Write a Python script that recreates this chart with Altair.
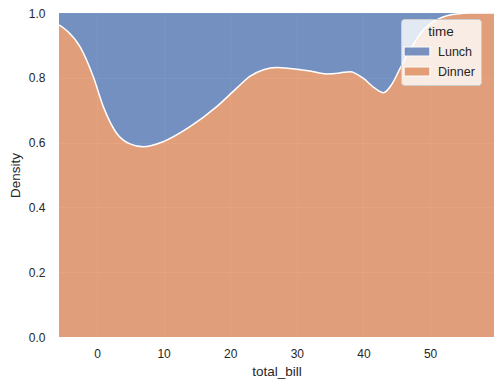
import altair as alt
import pandas as pd

# total_bill grid and share of Dinner density
bill = [-5.7, -4.5, -2.55, -0.55, 0.95, 2.95, 4.95, 6.95, 9.95, 13.96, 17.97, 20.97,
        23.0, 25.0, 26.98, 29.0, 31.98, 34.5, 36.5, 38.0, 40.0, 41.7, 43.0, 44.2, 45.5,
        47.0, 49.0, 51.5, 54.0, 56.0, 59.6]
dinner_share = [0.963, 0.945, 0.896, 0.803, 0.711, 0.629, 0.596, 0.587, 0.603, 0.649,
                0.711, 0.768, 0.805, 0.825, 0.832, 0.829, 0.821, 0.812, 0.815, 0.819,
                0.798, 0.768, 0.754, 0.778, 0.829, 0.886, 0.948, 0.984, 0.997, 1.0, 1.0]
groups = ["Lunch", "Dinner"]
colors = ["#4c72b0", "#dd8452"]

rows = []
for x, f in zip(bill, dinner_share):
    rows.append({"total_bill": x, "time": "Dinner", "y0": 0.0, "y1": f})
    rows.append({"total_bill": x, "time": "Lunch", "y0": f, "y1": 1.0})
df = pd.DataFrame(rows)
line_df = pd.DataFrame({"total_bill": bill, "share": dinner_share})

font = "Liberation Sans"

x_scale = alt.Scale(domain=[bill[0], bill[-1]], nice=False, zero=False)
y_scale = alt.Scale(domain=[0, 1], nice=False)

areas = alt.Chart(df).mark_area(opacity=0.75, interpolate="monotone").encode(
    x=alt.X("total_bill:Q", scale=x_scale, title="total_bill",
            axis=alt.Axis(values=[0, 10, 20, 30, 40, 50], format="d",
                          labelPadding=11, titlePadding=5)),
    y=alt.Y("y0:Q", scale=y_scale, title="Density",
            axis=alt.Axis(values=[0, 0.2, 0.4, 0.6, 0.8, 1.0], format=".1f",
                          labelPadding=14, titlePadding=6)),
    y2="y1:Q",
    color=alt.Color("time:N", scale=alt.Scale(domain=groups, range=colors),
                    sort=groups,
                    legend=alt.Legend(
                        title="time", orient="none", legendX=342, legendY=6,
                        titleAnchor="middle", titleFontWeight="normal",
                        titleFontSize=13.5, titleColor="#262626", titleFont=font,
                        labelFontSize=12.5, labelColor="#262626", labelFont=font,
                        fillColor="rgba(255,255,255,0.8)", strokeColor="#cccccc",
                        cornerRadius=3, padding=6, rowPadding=2, titlePadding=3,
                        symbolType="M-1.4,-0.5H1.4V0.5H-1.4Z", symbolSize=340,
                        symbolOpacity=0.75, symbolStrokeColor="white",
                        symbolStrokeWidth=1.2, labelOffset=11)),
    detail="time:N",
)

edge = alt.Chart(line_df).mark_line(color="white", strokeWidth=1.5,
                                    interpolate="monotone").encode(
    x=alt.X("total_bill:Q", scale=x_scale),
    y=alt.Y("share:Q", scale=y_scale),
)

chart = alt.layer(areas, edge).properties(
    width=435, height=324,
    autosize=alt.AutoSizeParams(type="none"),
    padding={"left": 51, "top": 5, "right": 1, "bottom": 44},
    background="white",
).configure_view(
    fill="#eaeaf2", stroke=None
).configure_axis(
    grid=True, gridColor="white", gridWidth=1, domain=False, ticks=False,
    labelFont=font, titleFont=font, labelFontSize=12, titleFontSize=13.5,
    labelColor="#262626", titleColor="#262626", titleFontWeight="normal",
)

chart.save("out.html", embed_options={"renderer": "svg", "actions": False})
